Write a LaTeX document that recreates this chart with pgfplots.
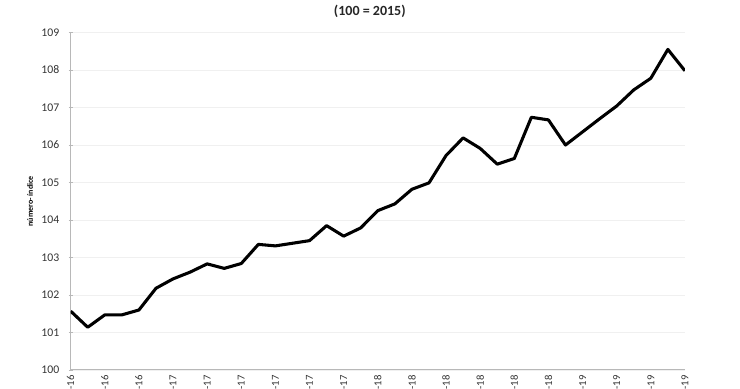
\documentclass[border=0pt]{standalone}
\usepackage{fontspec}
\setmainfont{Carlito}
\usepackage{pgfplots}
\pgfplotsset{compat=1.18}
\begin{document}
\begin{tikzpicture}
\begin{axis}[
  scale only axis,
  width=460.7pt, height=253.1pt,
  xmin=0, xmax=36, ymin=100, ymax=109,
  axis lines*=left,
  axis line style={draw=black!28, line width=0.75pt},
  ytick={100,...,109},
  xtick={0,2,...,36},
  xticklabels={-16,-16,-16,-17,-17,-17,-17,-17,-17,-18,-18,-18,-18,-18,-18,-19,-19,-19,-19},
  xtick style={draw=none},
  ytick style={draw=black!28, line width=0.6pt},
  tick align=center,
  major tick length=3pt,
  ymajorgrids,
  grid style={draw=black!6, line width=0.6pt},
  /pgf/number format/assume math mode=true,
  yticklabel style={font=\fontsize{8.8}{10}\selectfont\color{black!80}, xshift=-3.5pt},
  xticklabel style={font=\fontsize{8}{9}\selectfont\color{black!80}, rotate=90, anchor=east, inner sep=2.2pt},
  title={(100 = 2015)},
  title style={font=\bfseries\fontsize{10.5}{12}\selectfont\color{black!85}, at={(0.5,1)}, anchor=south, yshift=1.5pt, xshift=-6pt},
]
\addplot[black, line width=2.3pt, line join=round] coordinates {
(0,101.57) (1,101.14) (2,101.47) (3,101.47) (4,101.60) (5,102.18)
(6,102.43) (7,102.61) (8,102.83) (9,102.71) (10,102.84) (11,103.35)
(12,103.31) (13,103.38) (14,103.45) (15,103.85) (16,103.57) (17,103.79)
(18,104.25) (19,104.43) (20,104.82) (21,104.99) (22,105.72) (23,106.19)
(24,105.91) (25,105.49) (26,105.64) (27,106.74) (28,106.67) (29,106.00)
(30,106.35) (31,106.70) (32,107.04) (33,107.47) (34,107.78) (35,108.55)
(36,107.98)
};
\end{axis}
\node[rotate=90, font=\bfseries\fontsize{6}{7}\selectfont] at ([xshift=-30.5pt]current axis.west) {número- índice};
\pgfresetboundingbox
\path[use as bounding box] ([shift={(-53.0pt,-14.25pt)}]current axis.south west) rectangle ([shift={(502.0pt,277.5pt)}]current axis.south west);
\end{tikzpicture}
\end{document}
